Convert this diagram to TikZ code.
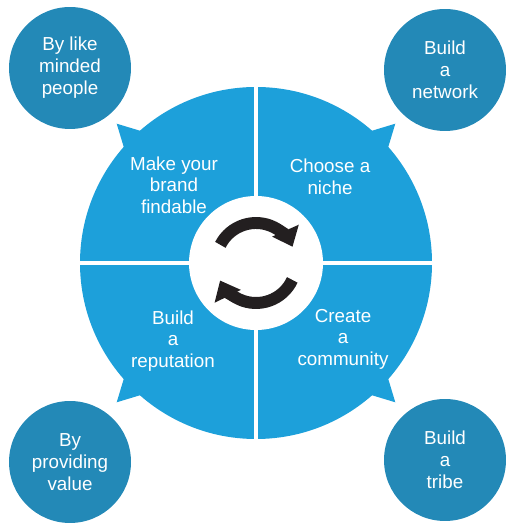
\documentclass[tikz,border=0pt]{standalone}
\usepackage{fontspec}
\setmainfont{Liberation Sans}
\usetikzlibrary{arrows.meta,calc}
\definecolor{ringblue}{RGB}{29,160,218}
\definecolor{dotblue}{RGB}{35,137,183}
\definecolor{turnblack}{RGB}{35,31,32}

\begin{document}
\begin{tikzpicture}[x=0.02cm,y=0.02cm,
  corner/.style={circle,minimum size=2.44cm,inner sep=0pt,fill=dotblue,text=white,align=center,font=\fontsize{10.7}{12.6}\selectfont},
  part/.style={text=white,align=center,font=\fontsize{10.7}{12.2}\selectfont},
  turn/.style={line width=6.8pt,draw=turnblack,-{Triangle[width=16pt,length=10pt,fill=turnblack]}}]
  \useasboundingbox (0,0) rectangle (505,523);
  \coordinate (O) at (256,260);
  \fill[ringblue] (O) circle[radius=176];
  \foreach \a in {45,135,225,315}
    \fill[ringblue] ($(O)+(\a-5:170)$) -- ($(O)+(\a:197)$) -- ($(O)+(\a+5:170)$) -- cycle;
  \draw[white,line width=2.8pt] ($(O)+(-182,0)$) -- ($(O)+(182,0)$);
  \draw[white,line width=2.8pt] ($(O)+(0,-182)$) -- ($(O)+(0,182)$);
  \fill[white] (O) circle[radius=67];
  \draw[turn] ($(O)+(153:40)$) arc[start angle=153,end angle=24,radius=40];
  \draw[turn] ($(O)+(335:40)$) arc[start angle=335,end angle=206,radius=40];
  \draw(174,338) node[part] (findable) {Make your\\brand\\findable};
  \draw(330,346) node[part] (niche) {Choose a\\niche};
  \draw(173,182) node[part] (reputation) {Build\\a\\reputation};
  \draw(343,184) node[part] (community) {Create\\a\\community};
  \draw(70,455) node[corner] (people) {By like\\minded\\people};
  \draw(445,453) node[corner] (network) {Build\\a\\network};
  \draw(70,61) node[corner] (value) {By\\providing\\value};
  \draw(445,63) node[corner] (tribe) {Build\\a\\tribe};
\end{tikzpicture}
\end{document}
